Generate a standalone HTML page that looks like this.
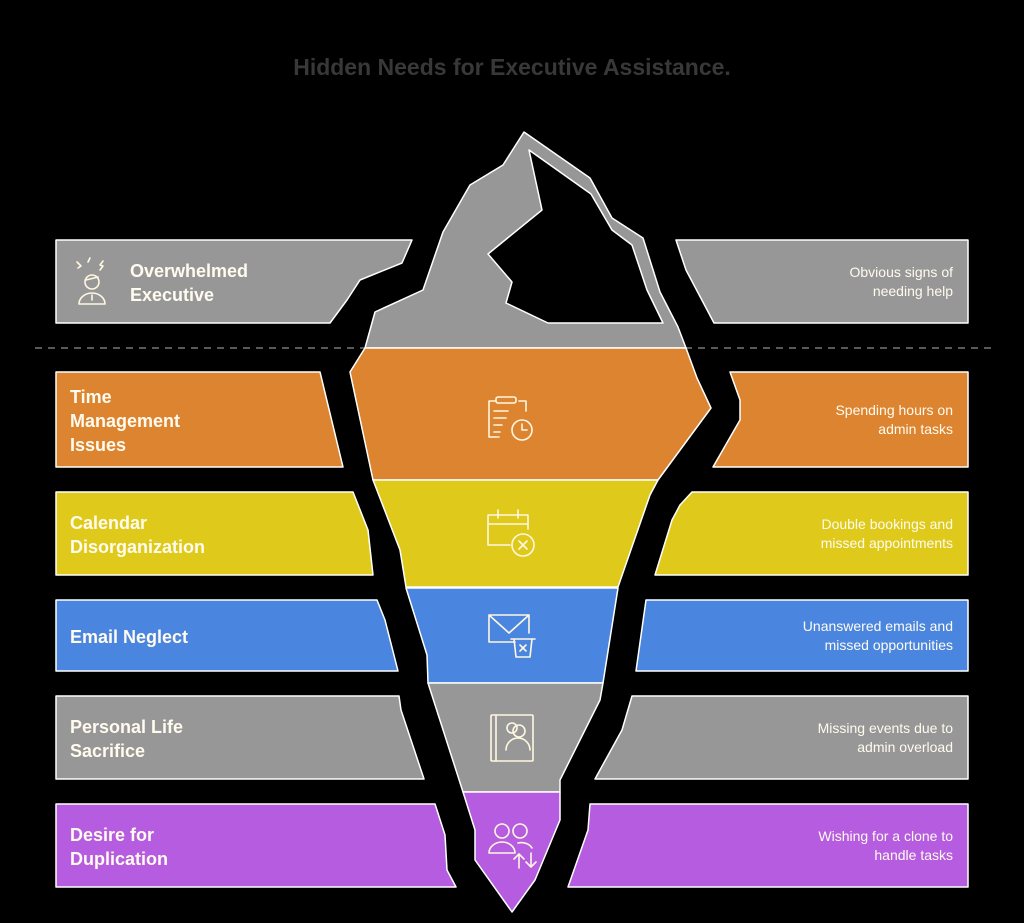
<!DOCTYPE html>
<html><head><meta charset="utf-8"><style>
body{margin:0;background:#000;}
svg{display:block}
text{font-family:"Liberation Sans",sans-serif;}
.l{font-size:18px;font-weight:bold;fill:#fffbef}
.r{font-size:14px;fill:#fffbef;text-anchor:end}
.ic{fill:none;stroke:#fff7e0;stroke-width:1.6;stroke-linecap:round;stroke-linejoin:round}
</style></head><body>
<svg width="1024" height="923" viewBox="0 0 1024 923">
<rect width="1024" height="923" fill="#000"/>
<text x="512" y="75" text-anchor="middle" font-size="23" font-weight="bold" fill="#383838">Hidden Needs for Executive Assistance.</text>
<line x1="35" y1="348" x2="992" y2="348" stroke="#777" stroke-width="1.5" stroke-dasharray="7,6"/>
<g stroke="#fff" stroke-width="1.5" stroke-linejoin="round">
<polygon fill="#979797" points="524,132 590,178 612,218 643,238 660,292 678,327 686,348 365,348 375,312 423,290 443,232 470,185 503,165"/>
<polygon fill="#000" points="529,150 591,194 612,230 632,245 647,290 663,323 548,323 506,303 512,282 488,254 542,210"/>
<polygon fill="#dd8431" points="365,348 686,348 697,378 711,408 658,480 373,480 350,372"/>
<polygon fill="#dfca1c" points="373,480 658,480 650,495 618,587 406,587 400,550"/>
<polygon fill="#4a86e0" points="406,588 618,588 603,683 428,683 427,655"/>
<polygon fill="#979797" points="428,683 603,683 600,700 560,780 560,792 463,792"/>
<polygon fill="#b55ce0" points="463,792 560,792 560,820 535,880 512,912 475,860 475,830"/>
<polygon fill="#979797" points="56,240 412,240 402,263 360,280 347,300 330,323 56,323"/>
<polygon fill="#dd8431" points="56,372 320,372 343,467 56,467"/>
<polygon fill="#dfca1c" points="56,492 353,492 368,530 373,575 56,575"/>
<polygon fill="#4a86e0" points="56,600 377,600 385,620 398,671 56,671"/>
<polygon fill="#979797" points="56,696 399,696 401,710 424,779 56,779"/>
<polygon fill="#b55ce0" points="56,804 435,804 445,835 447,870 456,887 56,887"/>
<polygon fill="#979797" points="676,240 968,240 968,323 714,323 686,270"/>
<polygon fill="#dd8431" points="730,372 968,372 968,467 713,467 740,420 740,400"/>
<polygon fill="#dfca1c" points="692,492 968,492 968,575 655,575 672,520 680,505"/>
<polygon fill="#4a86e0" points="646,600 968,600 968,671 636,671"/>
<polygon fill="#979797" points="632,696 968,696 968,779 595,779 622,730"/>
<polygon fill="#b55ce0" points="590,804 968,804 968,887 568,887 588,830"/>
</g>
<text class="l" x="130" y="277">Overwhelmed</text>
<text class="l" x="130" y="301">Executive</text>
<text class="l" x="70" y="403">Time</text>
<text class="l" x="70" y="427">Management</text>
<text class="l" x="70" y="451">Issues</text>
<text class="l" x="70" y="529">Calendar</text>
<text class="l" x="70" y="553">Disorganization</text>
<text class="l" x="70" y="643">Email Neglect</text>
<text class="l" x="70" y="733">Personal Life</text>
<text class="l" x="70" y="757">Sacrifice</text>
<text class="l" x="70" y="841">Desire for</text>
<text class="l" x="70" y="865">Duplication</text>
<text class="r" x="953" y="277">Obvious signs of</text>
<text class="r" x="953" y="296">needing help</text>
<text class="r" x="953" y="415">Spending hours on</text>
<text class="r" x="953" y="434">admin tasks</text>
<text class="r" x="953" y="529">Double bookings and</text>
<text class="r" x="953" y="548">missed appointments</text>
<text class="r" x="953" y="631">Unanswered emails and</text>
<text class="r" x="953" y="650">missed opportunities</text>
<text class="r" x="953" y="733">Missing events due to</text>
<text class="r" x="953" y="752">admin overload</text>
<text class="r" x="953" y="841">Wishing for a clone to</text>
<text class="r" x="953" y="860">handle tasks</text>
<g class="ic">
<circle cx="92" cy="282" r="7"/><path d="M79,304 a13,11 0 0 1 26,0 z M92,295 v5"/>
<path d="M77,262 l4,4 -3,2 M90,258 l-2,4 M103,261 l-3,4 3,1 -3,4 M86,280 l12,-3"/>
<path d="M499,437 h-10 v-36 h7 M519,401 h7 v10"/><rect x="496" y="397" width="20" height="6" rx="2"/>
<path d="M494,411 h14 M494,418 h12 M494,425 h8 M494,432 h6"/><circle cx="522" cy="430" r="10"/><path d="M522,424 v6 h5"/>
<path d="M510,545 h-22 v-30 h40 v14 M488,524 h40 M498,510 v8 M518,510 v8"/><circle cx="523" cy="545" r="11"/><path d="M519,541 l8,8 M527,541 l-8,8"/>
<path d="M515,642 h-26 v-27 h40 v18 M489,615 l20,18 20,-18"/><path d="M511,639 h24 M514,639 l2,18 h14 l2,-18"/><path d="M520,645 l6,6 M526,645 l-6,6"/>
<rect x="491" y="715" width="42" height="46" rx="1"/><path d="M496,715 v46"/><circle cx="519" cy="731" r="6"/><circle cx="512" cy="728" r="5"/><path d="M506,750 a12,12 0 0 1 24,0"/>
<circle cx="502" cy="831" r="7"/><circle cx="520" cy="831" r="7"/><path d="M489,853 a13,11 0 0 1 26,0 z M518,843 a12,10 0 0 1 14,5"/>
<path d="M519,868 v-14 M514,859 l5,-5 5,5 M531,853 v14 M526,862 l5,5 5,-5"/>
</g>
</svg>
</body></html>
